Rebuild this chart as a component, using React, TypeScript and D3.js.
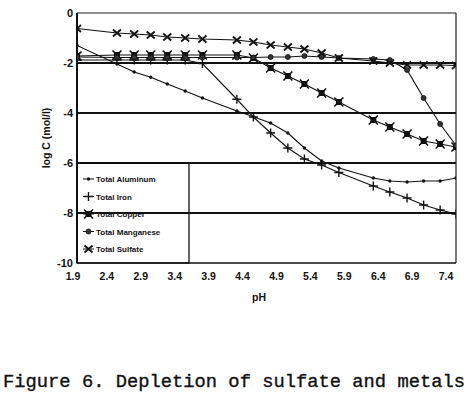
import React from "react";
import * as d3 from "d3";

const pH = [1.9, 2.48, 2.73, 2.97, 3.21, 3.47, 3.72, 4.22, 4.46, 4.71, 4.96, 5.2, 5.45, 5.7, 6.2, 6.44, 6.69, 6.93, 7.17, 7.4];
const aluminum = [-1.3, -2.04, -2.36, -2.57, -2.84, -3.12, -3.4, -3.92, -4.15, -4.4, -4.8, -5.4, -5.92, -6.2, -6.6, -6.72, -6.76, -6.72, -6.72, -6.6];
const iron = [-1.88, -1.88, -1.88, -1.88, -1.88, -1.88, -2.02, -3.45, -4.16, -4.8, -5.4, -5.84, -6.08, -6.38, -6.92, -7.16, -7.4, -7.68, -7.88, -8.04];
const copper = [-1.72, -1.68, -1.68, -1.68, -1.68, -1.68, -1.68, -1.68, -1.8, -2.2, -2.52, -2.84, -3.2, -3.56, -4.28, -4.56, -4.84, -5.12, -5.24, -5.36];
const manganese = [-1.76, -1.78, -1.78, -1.78, -1.78, -1.78, -1.78, -1.78, -1.78, -1.76, -1.76, -1.72, -1.76, -1.8, -1.84, -1.88, -2.28, -3.4, -4.44, -5.3];
const sulfate = [-0.62, -0.8, -0.84, -0.88, -0.96, -1.0, -1.04, -1.08, -1.16, -1.28, -1.36, -1.44, -1.6, -1.8, -1.92, -2.0, -2.08, -2.08, -2.08, -2.1];

const seriesNames = ["Total Aluminum", "Total Iron", "Total Copper", "Total Manganese", "Total Sulfate"];
const seriesKeys = ["al", "fe", "cu", "mn", "so4"];
const yTicks = [0, -2, -4, -6, -8, -10];
const xTickLabels = ["1.9", "2.4", "2.9", "3.4", "3.9", "4.4", "4.9", "5.4", "5.9", "6.4", "6.9", "7.4"];
const caption = "Figure 6. Depletion of sulfate and metals";

const seriesValues = [aluminum, iron, copper, manganese, sulfate];

function Marker({ kind, cx, cy }: { kind: string; cx: number; cy: number }) {
  if (kind === "al") return <circle cx={cx} cy={cy} r={1.7} fill="#111" />;
  if (kind === "fe")
    return (
      <path d={`M${cx - 4.5},${cy}H${cx + 4.5}M${cx},${cy - 4.5}V${cy + 4.5}`} stroke="#111" strokeWidth={1.4} />
    );
  if (kind === "cu")
    return (
      <g>
        <rect x={cx - 3} y={cy - 3} width={6} height={6} fill="#111" />
        <path d={`M${cx - 4.5},${cy - 4.5}L${cx + 4.5},${cy + 4.5}M${cx - 4.5},${cy + 4.5}L${cx + 4.5},${cy - 4.5}`} stroke="#111" strokeWidth={1.6} />
      </g>
    );
  if (kind === "mn") return <circle cx={cx} cy={cy} r={2.5} fill="#333" stroke="#111" strokeWidth={0.8} />;
  return (
    <path d={`M${cx - 4},${cy - 3.5}L${cx + 4},${cy + 3.5}M${cx - 4},${cy + 3.5}L${cx + 4},${cy - 3.5}`} stroke="#111" strokeWidth={1.8} />
  );
}

export default function App() {
  const W = 468, H = 396;
  const x = d3.scaleLinear().domain([1.9, 7.4]).range([77, 456]);
  const xLab = d3.scaleLinear().domain([1.9, 7.4]).range([73, 446]);
  const y = d3.scaleLinear().domain([-10, 0]).range([263, 13]);
  const line = d3.line<[number, number]>().x((d) => x(d[0])).y((d) => y(d[1]));
  const font = "Arial, 'Liberation Sans', sans-serif";
  const legendTop = y(-6);
  const legendRight = 189;

  return (
    <svg width={W} height={H} style={{ position: "absolute", left: 0, top: 0, background: "#fff" }}>
      <defs>
        <clipPath id="plot">
          <rect x={x(1.9)} y={y(0) - 6} width={x(7.4) - x(1.9)} height={y(-10) - y(0) + 6} />
        </clipPath>
      </defs>
      {/* frame */}
      <line x1={x(1.9)} x2={x(7.4)} y1={y(0)} y2={y(0)} stroke="#222" strokeWidth={1.2} />
      <line x1={x(7.4)} x2={x(7.4)} y1={y(0)} y2={y(-10)} stroke="#222" strokeWidth={1.2} />
      {/* gridlines */}
      {yTicks.filter((t) => t !== 0 && t !== -10).map((t) => (
        <line key={t} x1={x(1.9)} x2={x(7.4)} y1={y(t)} y2={y(t)} stroke="#111" strokeWidth={1.8} />
      ))}
      <line x1={x(1.9)} x2={x(7.4)} y1={y(-10)} y2={y(-10)} stroke="#111" strokeWidth={1.6} />
      <line x1={x(1.9)} x2={x(1.9)} y1={y(0)} y2={y(-10)} stroke="#111" strokeWidth={2} />
      {/* legend box */}
      <rect x={x(1.9)} y={legendTop} width={legendRight - x(1.9)} height={y(-10) - legendTop} fill="none" stroke="#111" strokeWidth={1.3} />
      {seriesKeys.map((k, i) => {
        const ly = 179 + i * 17.5;
        return (
          <g key={k}>
            <line x1={83} x2={94} y1={ly} y2={ly} stroke="#111" strokeWidth={1} />
            <Marker kind={k} cx={88.5} cy={ly} />
            <text x={96} y={ly + 3} fontFamily={font} fontSize={8} fontWeight="bold" fill="#111">
              {seriesNames[i]}
            </text>
          </g>
        );
      })}
      {/* series */}
      <g clipPath="url(#plot)">
        {seriesKeys.map((k, i) => {
          const pts = pH.map((p, j) => [p, seriesValues[i][j]] as [number, number]);
          return (
            <g key={k}>
              <path d={line(pts) || ""} fill="none" stroke="#111" strokeWidth={1.1} />
              {pts.map((d, j) => (
                <Marker key={j} kind={k} cx={x(d[0])} cy={y(d[1])} />
              ))}
            </g>
          );
        })}
      </g>
      {/* y labels */}
      {yTicks.map((t) => (
        <text key={t} x={73} y={y(t) + 4} textAnchor="end" fontFamily={font} fontSize={11} fontWeight="bold" fill="#111">
          {t === 0 ? "0" : String(t)}
        </text>
      ))}
      {/* x labels */}
      {xTickLabels.map((l) => (
        <text key={l} x={xLab(+l)} y={280} textAnchor="middle" fontFamily={font} fontSize={10.5} fontWeight="bold" fill="#111">
          {l}
        </text>
      ))}
      <text x={259} y={301} textAnchor="middle" fontFamily={font} fontSize={10.5} fontWeight="bold" fill="#111">
        pH
      </text>
      <text
        transform={`translate(50, ${(y(0) + y(-10)) / 2}) rotate(-90)`}
        textAnchor="middle"
        fontFamily={font}
        fontSize={10.5}
        fontWeight="bold"
        fill="#111"
      >
        log C (mol/l)
      </text>
      <text x={3} y={387} fontFamily="'Liberation Mono', 'Courier New', monospace" fontSize={18.5} textLength={462} lengthAdjust="spacingAndGlyphs" fill="#111" stroke="#111" strokeWidth={0.35}>
        {caption}
      </text>
    </svg>
  );
}
